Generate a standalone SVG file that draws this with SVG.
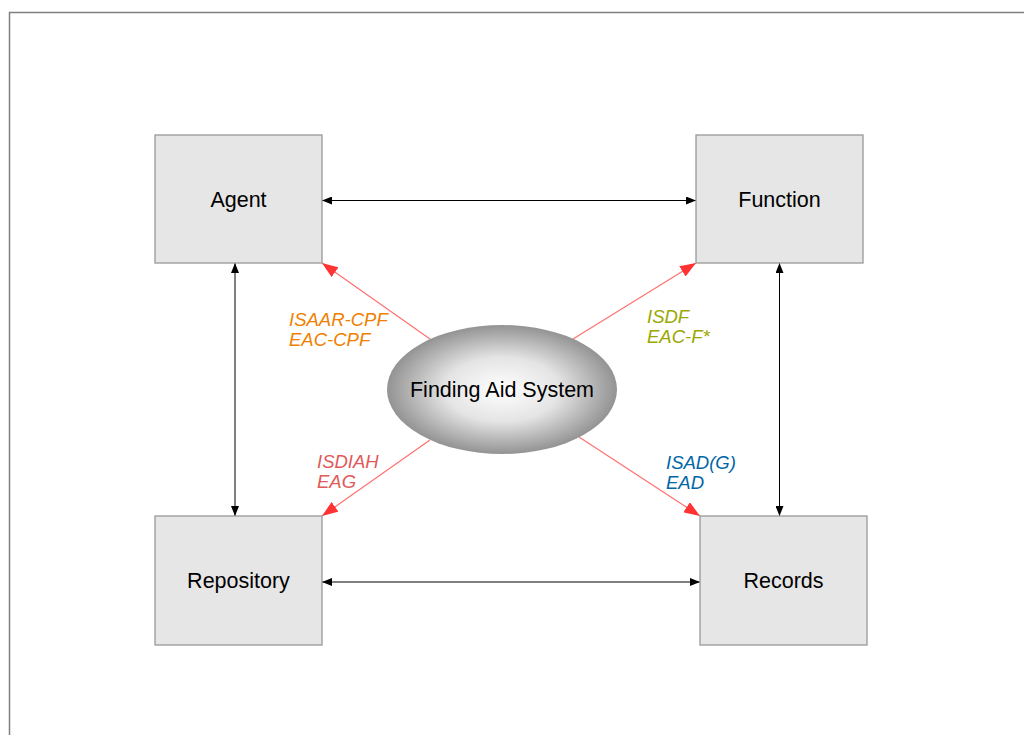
<svg xmlns="http://www.w3.org/2000/svg" width="1024" height="735" viewBox="0 0 1024 735">
<style>
.box{fill:#e6e6e6;stroke:#999999;stroke-width:1.3}
.lbl{font-family:"Liberation Sans",Arial,sans-serif;font-size:21.5px;fill:#000;text-anchor:middle}
.std{font-family:"Liberation Sans",Arial,sans-serif;font-size:18.5px;font-style:italic}
.blk{stroke:#000;stroke-width:1;fill:none;marker-start:url(#ab);marker-end:url(#ab)}
.red{stroke:#ff7070;stroke-width:1.2;fill:none;marker-end:url(#ar)}
</style>
<defs>
<marker id="ab" viewBox="0 0 10 8" refX="10" refY="4" markerWidth="10" markerHeight="8" markerUnits="userSpaceOnUse" orient="auto-start-reverse">
<path d="M0,0 L10,4 L0,8 Z" fill="#000"/>
</marker>
<marker id="ar" viewBox="0 0 16 12" refX="16" refY="6" markerWidth="16" markerHeight="12" markerUnits="userSpaceOnUse" orient="auto">
<path d="M0,0 L16,6 L0,12 Z" fill="#ff3333"/>
</marker>
<radialGradient id="eg" cx="0.5" cy="0.5" r="0.5">
<stop offset="0" stop-color="#ffffff"/>
<stop offset="0.5" stop-color="#e4e4e4"/>
<stop offset="1" stop-color="#939393"/>
</radialGradient>
</defs>
<rect x="0" y="0" width="1024" height="735" fill="#fff"/>
<path d="M9.5,735 V12.5 H1024" fill="none" stroke="#808080" stroke-width="1.5"/>
<g id="connectors">
<line class="blk" x1="322" y1="200.5" x2="696" y2="200.5"/>
<line class="blk" x1="235" y1="263" x2="235" y2="516"/>
<line class="blk" x1="779.5" y1="263" x2="779.5" y2="516"/>
<line class="blk" x1="322" y1="582" x2="700" y2="582"/>
<line class="red" x1="430" y1="339" x2="322" y2="263"/>
<line class="red" x1="573" y1="339" x2="696" y2="263"/>
<line class="red" x1="430" y1="440" x2="322" y2="516"/>
<line class="red" x1="579" y1="437" x2="700" y2="516"/>
</g>
<g id="agent"><rect class="box" x="155" y="135" width="167" height="128"/><text class="lbl" x="238.5" y="206.5">Agent</text></g>
<g id="function"><rect class="box" x="696" y="135" width="167" height="128"/><text class="lbl" x="779.5" y="206.5">Function</text></g>
<g id="repository"><rect class="box" x="155" y="516" width="167" height="129"/><text class="lbl" x="238.5" y="588">Repository</text></g>
<g id="records"><rect class="box" x="700" y="516" width="167" height="129"/><text class="lbl" x="783.5" y="588">Records</text></g>
<g id="finding-aid-system"><ellipse cx="502" cy="389.5" rx="115" ry="64.5" fill="url(#eg)"/><text class="lbl" x="502" y="397">Finding Aid System</text></g>
<g id="labels">
<text class="std" fill="#f08000" x="289" y="326">ISAAR-CPF<tspan x="289" y="346">EAC-CPF</tspan></text>
<text class="std" fill="#9aa800" x="647" y="323">ISDF<tspan x="647" y="343">EAC-F*</tspan></text>
<text class="std" fill="#e05a5a" x="317" y="468">ISDIAH<tspan x="317" y="488">EAG</tspan></text>
<text class="std" fill="#0066a6" x="666" y="468.5">ISAD(G)<tspan x="666" y="488.5">EAD</tspan></text>
</g>
</svg>
